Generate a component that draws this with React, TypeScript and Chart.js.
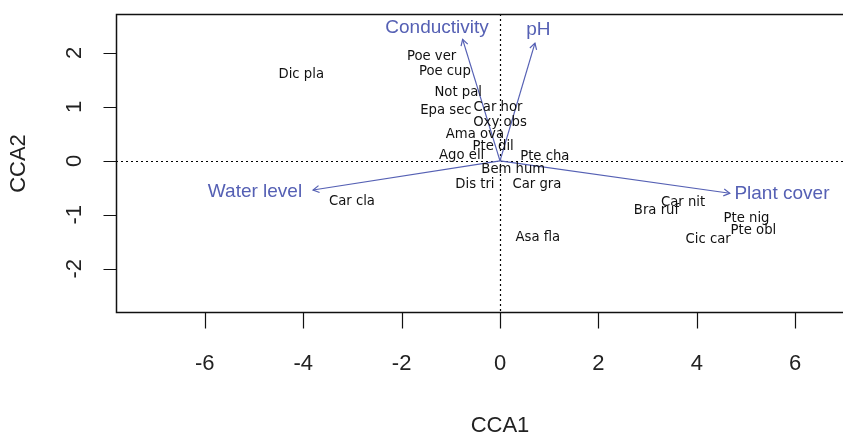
import React, { useEffect, useRef } from "react";
import { Chart, registerables } from "chart.js";

Chart.register(...registerables);

const speciesNames = ["Dic pla", "Poe ver", "Poe cup", "Not pal", "Epa sec", "Car hor", "Oxy obs", "Ama ova", "Pte dil", "Ago ell", "Pte cha", "Bem hum", "Dis tri", "Car gra", "Car cla", "Asa fla", "Bra ruf", "Car nit", "Pte nig", "Pte obl", "Cic car"];
const speciesX = [-4.04, -1.39, -1.12, -0.85, -1.1, -0.04, 0.0, -0.51, -0.14, -0.78, 0.91, 0.27, -0.51, 0.75, -3.01, 0.77, 3.18, 3.72, 5.01, 5.15, 4.23];
const speciesY = [1.61, 1.93, 1.67, 1.28, 0.94, 1.0, 0.71, 0.5, 0.27, 0.11, 0.09, -0.15, -0.43, -0.43, -0.75, -1.42, -0.91, -0.77, -1.07, -1.29, -1.46];

const envNames = ["Conductivity", "pH", "Water level", "Plant cover"];
const envTipX = [-0.76, 0.71, -3.8, 4.67];
const envTipY = [2.25, 2.18, -0.54, -0.6];
const envLabelX = [-1.28, 0.78, -4.98, 5.73];
const envLabelY = [2.46, 2.43, -0.57, -0.61];

const xTicks = [-6, -4, -2, 0, 2, 4, 6];
const yTicks = [-2, -1, 0, 1, 2];
const xTitle = "CCA1";
const yTitle = "CCA2";

const BLUE = "#5560b4";

const biplotPlugin = {
  id: "biplot",
  beforeDatasetsDraw(chart: any) {
    const { ctx, chartArea, scales } = chart;
    const x0 = Math.round(scales.x.getPixelForValue(0)) + 0.5;
    const y0 = Math.round(scales.y.getPixelForValue(0)) + 0.5;
    ctx.save();
    ctx.strokeStyle = "#000";
    ctx.lineWidth = 1.2;
    ctx.setLineDash([2, 3]);
    ctx.beginPath();
    ctx.moveTo(chartArea.left, y0);
    ctx.lineTo(chartArea.right, y0);
    ctx.moveTo(x0, chartArea.top);
    ctx.lineTo(x0, chartArea.bottom);
    ctx.stroke();
    ctx.restore();
  },
  afterDatasetsDraw(chart: any) {
    const { ctx, scales } = chart;
    ctx.save();
    ctx.strokeStyle = BLUE;
    ctx.lineWidth = 1.2;
    for (let i = 0; i < envNames.length; i++) {
      const ox = scales.x.getPixelForValue(0);
      const oy = scales.y.getPixelForValue(0);
      const tx = scales.x.getPixelForValue(envTipX[i]);
      const ty = scales.y.getPixelForValue(envTipY[i]);
      const ang = Math.atan2(ty - oy, tx - ox);
      const len = 7;
      const spread = Math.PI / 6;
      ctx.beginPath();
      ctx.moveTo(tx - len * Math.cos(ang - spread), ty - len * Math.sin(ang - spread));
      ctx.lineTo(tx, ty);
      ctx.lineTo(tx - len * Math.cos(ang + spread), ty - len * Math.sin(ang + spread));
      ctx.stroke();
    }
    ctx.fillStyle = "#111";
    ctx.font = "14.7px 'DejaVu Sans Condensed', 'DejaVu Sans', sans-serif";
    ctx.textAlign = "center";
    ctx.textBaseline = "middle";
    const meta = chart.getDatasetMeta(0);
    meta.data.forEach((pt: any, i: number) => {
      ctx.fillText(speciesNames[i], pt.x, pt.y);
    });
    ctx.fillStyle = BLUE;
    ctx.font = "19px 'Liberation Sans', Arial, sans-serif";
    for (let i = 0; i < envNames.length; i++) {
      ctx.fillText(envNames[i], scales.x.getPixelForValue(envLabelX[i]), scales.y.getPixelForValue(envLabelY[i]));
    }
    ctx.restore();
  },
  afterDraw(chart: any) {
    const { ctx, chartArea, scales } = chart;
    const L = Math.round(chartArea.left) + 0.5;
    const T = Math.round(chartArea.top) + 0.5;
    const B = Math.round(chartArea.bottom) + 0.5;
    const R = Math.round(chartArea.right) + 0.5;
    ctx.save();
    ctx.strokeStyle = "#111";
    ctx.lineWidth = 1.5;
    ctx.strokeRect(L, T, R - L, B - T);
    ctx.lineWidth = 1.2;
    ctx.beginPath();
    xTicks.forEach((v) => {
      const px = Math.round(scales.x.getPixelForValue(v)) + 0.5;
      ctx.moveTo(px, B);
      ctx.lineTo(px, B + 16);
    });
    yTicks.forEach((v) => {
      const py = Math.round(scales.y.getPixelForValue(v)) + 0.5;
      ctx.moveTo(L, py);
      ctx.lineTo(L - 13, py);
    });
    ctx.stroke();
    ctx.fillStyle = "#222";
    ctx.font = "22px 'Liberation Sans', Arial, sans-serif";
    ctx.textAlign = "center";
    ctx.textBaseline = "middle";
    xTicks.forEach((v) => {
      ctx.fillText(String(v), scales.x.getPixelForValue(v), B + 51);
    });
    yTicks.forEach((v) => {
      ctx.save();
      ctx.translate(L - 42, scales.y.getPixelForValue(v));
      ctx.rotate(-Math.PI / 2);
      ctx.fillText(String(v), 0, 0);
      ctx.restore();
    });
    ctx.fillText(xTitle, scales.x.getPixelForValue(0), B + 113);
    ctx.save();
    ctx.translate(L - 98, (T + B) / 2);
    ctx.rotate(-Math.PI / 2);
    ctx.fillText(yTitle, 0, 0);
    ctx.restore();
    ctx.restore();
  },
};

export default function App() {
  const ref = useRef<HTMLCanvasElement | null>(null);
  useEffect(() => {
    if (!ref.current) return;
    const arrowSets = envNames.map((n, i) => ({
      type: "line" as const,
      label: n,
      data: [
        { x: 0, y: 0 },
        { x: envTipX[i], y: envTipY[i] },
      ],
      borderColor: BLUE,
      borderWidth: 1.2,
      pointRadius: 0,
      showLine: true,
      fill: false,
    }));
    const chart = new Chart(ref.current, {
      type: "scatter",
      data: {
        datasets: [
          {
            label: "species",
            data: speciesX.map((x, i) => ({ x, y: speciesY[i] })),
            pointRadius: 0,
            pointHoverRadius: 0,
          } as any,
          ...arrowSets,
        ],
      },
      plugins: [biplotPlugin],
      options: {
        animation: false,
        responsive: false,
        devicePixelRatio: 1,
        events: [],
        layout: { padding: { left: 116, top: 14, right: 10, bottom: 123 } },
        plugins: { legend: { display: false }, tooltip: { enabled: false } },
        scales: {
          x: { type: "linear", display: false, min: -7.805, max: 7.52 },
          y: { type: "linear", display: false, min: -2.8, max: 2.72 },
        },
      },
    });
    return () => chart.destroy();
  }, []);
  return (
    <div style={{ position: "fixed", left: 0, top: 0, width: 843, height: 435, overflow: "hidden", background: "#fff" }}>
      <canvas ref={ref} width={880} height={435} style={{ display: "block" }} />
    </div>
  );
}
